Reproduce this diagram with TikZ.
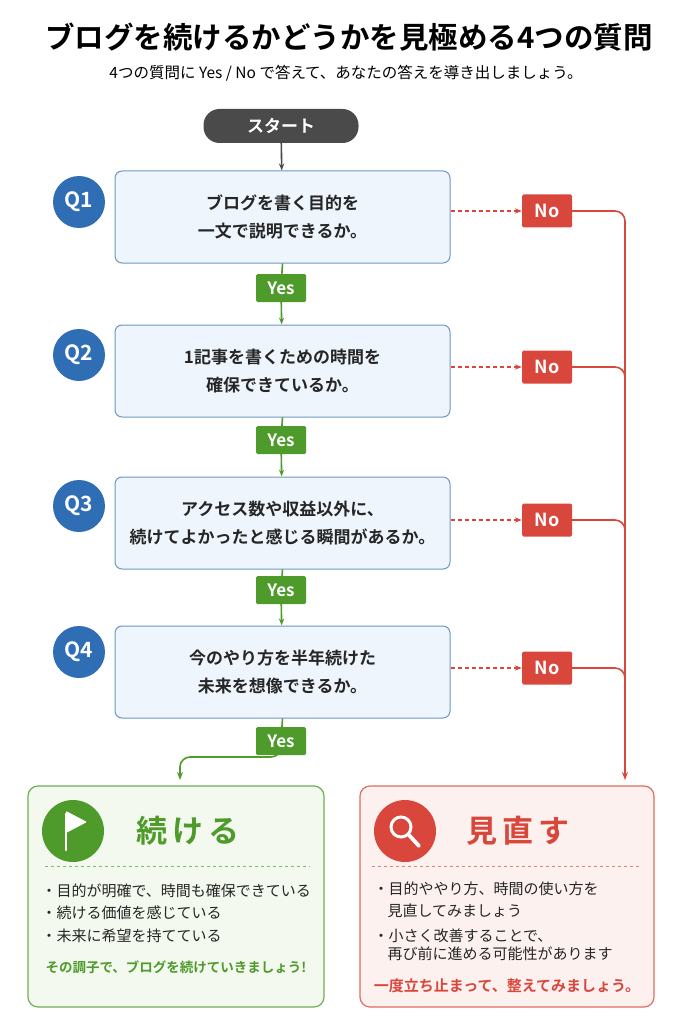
\documentclass[tikz,border=0pt]{standalone}
\usepackage{fontspec}
\setmainfont{Noto Sans CJK JP}
\newfontfamily\jpb{Noto Sans CJK JP Bold}
\usetikzlibrary{arrows.meta}
\definecolor{qblue}{HTML}{2F6DB5}
\definecolor{qfill}{HTML}{EEF5FC}
\definecolor{qline}{HTML}{6E98C2}
\definecolor{gr}{HTML}{4E9A2A}
\definecolor{rd}{HTML}{D9473C}
\definecolor{dk}{HTML}{4A4A4A}
\definecolor{gfill}{HTML}{F3F9EE}
\definecolor{rfill}{HTML}{FDF1EF}
\begin{document}
\begin{tikzpicture}[x=1pt,y=-1pt,
 q/.style={draw=qline,line width=1pt,fill=qfill,rounded corners=7pt,minimum width=335pt,minimum height=92pt,align=center,font=\jpb\fontsize{17}{28}\selectfont,text=black!85},
 qn/.style={circle,fill=qblue,minimum size=52pt,inner sep=0pt,text=white,font=\jpb\fontsize{21}{22}\selectfont},
 yes/.style={fill=gr,text=white,minimum width=50pt,minimum height=28pt,inner sep=0pt,rounded corners=1.5pt,font=\jpb\fontsize{17}{18}\selectfont},
 no/.style={fill=rd,text=white,minimum width=50pt,minimum height=33pt,inner sep=0pt,rounded corners=1.5pt,font=\jpb\fontsize{18}{18}\selectfont},
 noarrow/.style={draw=rd,line width=1.4pt,dash pattern=on 4pt off 3pt,-{Stealth[length=7pt]}},
 rl/.style={draw=rd,line width=1.6pt,rounded corners=10pt},
 gl/.style={draw=gr,line width=1.6pt,rounded corners=10pt},
 body/.style={anchor=west,font=\fontsize{15}{16}\selectfont,text=black!85}]
\useasboundingbox (0,0) rectangle (683,1024);
\fill[white] (0,0) rectangle (683,1024);
\node[font=\jpb\fontsize{29.5}{30}\selectfont] (title) at (349,37) {ブログを続けるかどうかを見極める4つの質問};
\node[font=\fontsize{15.5}{16}\selectfont] (sub) at (346,73) {4つの質問に Yes / No で答えて、あなたの答えを導き出しましょう。};
\node[fill=dk,rounded corners=16pt,minimum width=155pt,minimum height=34pt,text=white,font=\jpb\fontsize{17}{17}\selectfont] (start) at (281,126) {スタート};
\node[q] (q1) at (282.5,217) {ブログを書く目的を\\一文で説明できるか。};
\node[q] (q2) at (282.5,371) {1記事を書くための時間を\\確保できているか。};
\node[q] (q3) at (282.5,523) {アクセス数や収益以外に、\\続けてよかったと感じる瞬間があるか。};
\node[q] (q4) at (282.5,672) {今のやり方を半年続けた\\未来を想像できるか。};
\node[qn] (n1) at (79,202) {Q1};
\node[qn] (n2) at (79,355) {Q2};
\node[qn] (n3) at (79,506) {Q3};
\node[qn] (n4) at (79,652) {Q4};
\node[yes] (y1) at (281,288) {Yes};
\node[yes] (y2) at (281,440) {Yes};
\node[yes] (y3) at (281,590) {Yes};
\node[yes] (y4) at (281,741) {Yes};
\node[no] (o1) at (547,211) {No};
\node[no] (o2) at (547,367) {No};
\node[no] (o3) at (547,520) {No};
\node[no] (o4) at (547,668) {No};
\draw[dk,line width=1.6pt,-{Stealth[length=7pt]}] (start) -- (q1);
\draw[gr,line width=1.6pt] (q1.south) -- (y1);
\draw[gr,line width=1.6pt,-{Stealth[length=7pt]}] (y1) -- (q2);
\draw[gr,line width=1.6pt] (q2.south) -- (y2);
\draw[gr,line width=1.6pt,-{Stealth[length=7pt]}] (y2) -- (q3);
\draw[gr,line width=1.6pt] (q3.south) -- (y3);
\draw[gr,line width=1.6pt,-{Stealth[length=7pt]}] (y3) -- (q4);
\draw[gr,line width=1.6pt] (q4.south) -- (y4);
\foreach \i in {1,2,3,4}{\draw[noarrow] (q\i.east|-o\i.west) -- (o\i.west);}
% result boxes
\node[draw=gr!80,fill=gfill,rounded corners=10pt,line width=1.2pt,minimum width=296pt,minimum height=221pt] (rg) at (176,896.5) {};
\node[draw=rd!80,fill=rfill,rounded corners=10pt,line width=1.2pt,minimum width=294pt,minimum height=221pt] (rr) at (507,896.5) {};
\coordinate (rb) at (625,780);
\draw[rl,-{Stealth[length=8pt]}] (o1.east) -- (625,211) -- (rb);
\draw[rl] (o2.east) -- (625,367) -- (625,390);
\draw[rl] (o3.east) -- (625,520) -- (625,543);
\draw[rl] (o4.east) -- (625,668) -- (625,691);
\coordinate (gc) at (180,757);
\coordinate (gb) at (180,780);
\draw[gl,-{Stealth[length=8pt]}] (y4.south) |- (gc) -- (gb);
% green content
\node[circle,fill=gr,minimum size=62pt] (ic1) at (73,831) {};
\draw[white,line width=2.8pt,line cap=round] (66,814) -- (66,850);
\fill[white,rounded corners=1pt] (66,811) -- (87,822) -- (66,833) -- cycle;
\node[font=\jpb\fontsize{31}{32}\selectfont,text=gr,anchor=west] (t1) at (133,831) {続\,け\,る};
\draw[gr!70,dashed,line width=0.8pt] (45,866) -- (310,866);
\node[body] (g1) at (38,891) {・目的が明確で、時間も確保できている};
\node[body] (g2) at (38,913) {・続ける価値を感じている};
\node[body] (g3) at (38,936) {・未来に希望を持てている};
\node[font=\jpb\fontsize{13.5}{14}\selectfont,text=gr] (g4) at (176,967) {その調子で、ブログを続けていきましょう!};
% red content
\node[circle,fill=rd,minimum size=62pt] (ic2) at (405,831) {};
\draw[white,line width=3pt] (401,827) circle (10pt);
\draw[white,line width=3.8pt,line cap=round] (409,835) -- (419,846);
\node[font=\jpb\fontsize{31}{32}\selectfont,text=rd,anchor=west] (t2) at (463,831) {見\,直\,す};
\draw[rd!70,dashed,line width=0.8pt] (372,866) -- (642,866);
\node[body] (r1) at (370,889) {・目的ややり方、時間の使い方を};
\node[body] (r2) at (384,911) {見直してみましょう};
\node[body] (r3) at (370,936) {・小さく改善することで、};
\node[body] (r4) at (384,954) {再び前に進める可能性があります};
\node[font=\jpb\fontsize{15}{16}\selectfont,text=rd] (r5) at (507,986) {一度立ち止まって、整えてみましょう。};
\end{tikzpicture}
\end{document}
